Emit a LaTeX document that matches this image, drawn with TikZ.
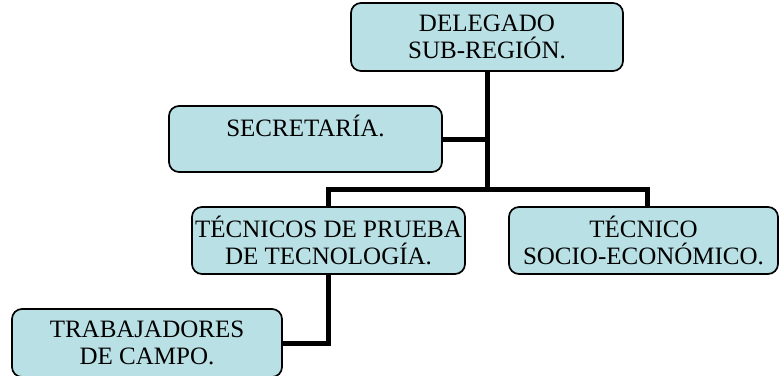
\documentclass[tikz,border=0pt]{standalone}
\usepackage{fontspec}
\setmainfont{Liberation Serif}
\definecolor{boxfill}{RGB}{185,224,228}
\begin{document}
\begin{tikzpicture}[x=1pt,y=-1pt,
  orgbox/.style={draw=black, line width=1.7pt, fill=boxfill, rounded corners=10pt,
    align=center, inner sep=0pt, font=\fontsize{25}{27}\selectfont},
  link/.style={line width=5pt}]
\useasboundingbox (0,0) rectangle (779,375);
\node[orgbox, minimum width=272pt, minimum height=68pt] (del) at (487,37) {DELEGADO\\SUB-REGIÓN.};
\node[orgbox, minimum width=273pt, minimum height=66pt] (sec) at (305.5,139) {SECRETARÍA.\\\mbox{}};
\node[orgbox, minimum width=273pt, minimum height=67pt] (tec) at (328.5,240.5) {TÉCNICOS DE PRUEBA\\DE TECNOLOGÍA.};
\node[orgbox, minimum width=269pt, minimum height=67pt] (soc) at (643.5,240.5) {TÉCNICO\\SOCIO-ECONÓMICO.};
\node[orgbox, minimum width=270pt, minimum height=68pt] (tra) at (147,343) {TRABAJADORES\\DE CAMPO.};
\coordinate (busL) at (328,189);
\coordinate (busR) at (647,189);
\draw[link] (del.south) -- (del.south |- busL);
\draw[link] (sec.east) -- (sec.east -| del.south);
\draw[link] (busL |- tec.north) -- (busL) -- (busR) -- (busR |- soc.north);
\draw[link] (busL |- tec.south) |- (tra.east);
\end{tikzpicture}
\end{document}
